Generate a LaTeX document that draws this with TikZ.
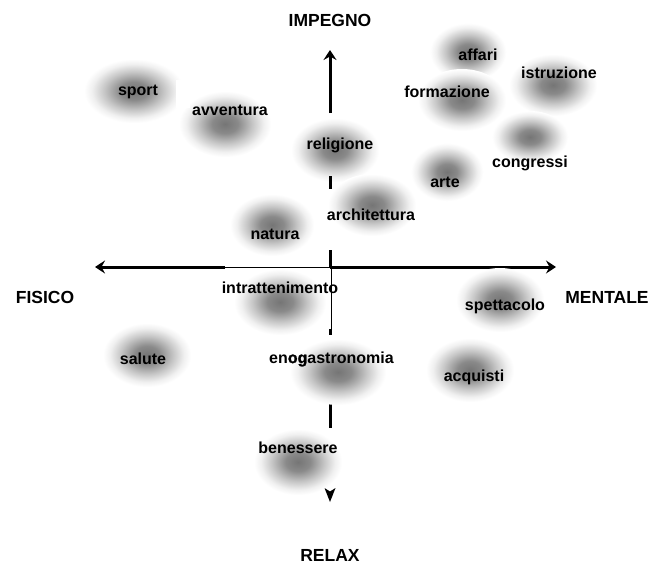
\documentclass[tikz,border=0pt]{standalone}
\usepackage{fontspec}
\setmainfont{Liberation Sans}
\newfontfamily\heavyfont[FakeBold=1.5]{Liberation Sans Bold}
\usetikzlibrary{arrows.meta}
\pgfdeclareradialshading{blobshade}{\pgfpoint{0bp}{0bp}}{color(0bp)=(black!54); color(7bp)=(black!46); color(15bp)=(black!22); color(21bp)=(black!6); color(25bp)=(white); color(50bp)=(white)}
\begin{document}
\begin{tikzpicture}[x=1pt,y=-1pt,
  lbl/.style={font=\bfseries\fontsize{16}{18}\selectfont, inner sep=0pt, text=black},
  axl/.style={font=\bfseries\fontsize{17.5}{20}\selectfont, inner sep=0pt, text=black},
  axisline/.style={line width=3pt, black},
  thinline/.style={line width=0.9pt, black},
  blob/.style={shading=blobshade},
  tipa/.style={-{Stealth[length=10pt,width=13pt,inset=3.5pt]}}
]
\useasboundingbox (0,0) rectangle (650,565);
\fill[white] (0,0) rectangle (650,565);

% blobs
\shade[blob] (468,52) ellipse (38 and 29);
\shade[blob] (553,85) ellipse (44 and 31);
\shade[blob] (462,100) ellipse (44 and 31);
\shade[blob] (134,91) ellipse (50 and 32);
\shade[blob] (225,124) ellipse (46 and 33);
\shade[blob] (335,150) ellipse (44 and 32);
\shade[blob] (530,137) ellipse (38 and 26);
\shade[blob] (447,172) ellipse (36 and 29);
\shade[blob] (372,205) ellipse (44 and 31);
\shade[blob] (272,225) ellipse (42 and 31);
\fill[white] (176,80) rectangle (190,108);

% white picture box over the axes
\coordinate (boxtl) at (225,267.5);
\coordinate (boxtr) at (331,267.5);
\coordinate (boxbr) at (331,330);

% axes
\coordinate (vtop) at (330,50);
\coordinate (vs1) at (330,113);
\coordinate (hl) at (95,267);
\coordinate (hr) at (556,267);
\draw[axisline,tipa] (vs1) -- (vtop);
\draw[axisline] (330,176) -- (330,189);
\draw[axisline] (330,250) -- (330,267);
\draw[axisline,tipa] (225,267) -- (hl);
\draw[axisline,tipa] (330,267) -- (hr);
\fill[white] (225,268.9) rectangle (330.5,330);
\draw[thinline] (boxtl) -- (boxtr) -- (boxbr);
\draw[axisline] (330,329) -- (330,335);
\draw[line width=2.5pt] (303.5,393.5) -- (307.5,393.5);
\draw[axisline] (330,398) -- (330,428);
\coordinate (vbot) at (330,502);
\fill (324.5,488) -- (330,491.5) -- (335.5,488) -- (vbot) -- cycle;

% lower blobs
\shade[blob] (280,302) ellipse (46 and 33);
\shade[blob] (500,300) ellipse (44 and 32);
\shade[blob] (147,355) ellipse (44 and 32);
\shade[blob] (338,372) ellipse (48 and 33);
\shade[blob] (470,370) ellipse (44 and 32);
\shade[blob] (298,462) ellipse (44 and 33);

% axis labels
\node[axl] (impegno) at (330,20) {IMPEGNO};
\node[axl] (relax) at (330,555) {RELAX};
\node[axl] (fisico) at (45,297) {FISICO};
\node[axl] (mentale) at (607,297) {MENTALE};

% labels
\node[lbl] (affari) at (478,55) {affari};
\node[lbl] (istruzione) at (559,73) {istruzione};
\node[lbl] (formazione) at (447,92) {formazione};
\node[lbl] (sport) at (138,92) {sport};
\node[lbl] (avventura) at (230,110) {avventura};
\node[lbl] (religione) at (340,145) {religione};
\node[lbl] (congressi) at (530,163) {congressi};
\node[lbl] (arte) at (445,182) {arte};
\node[lbl] (architettura) at (371,215) {architettura};
\node[lbl] (natura) at (275,234) {natura};
\node[lbl] (intrattenimento) at (280,288) {intrattenimento};
\node[lbl] (spettacolo) at (505,306) {spettacolo};
\node[lbl] (salute) at (143,359) {salute};
\node[lbl,anchor=west] (enogastronomia) at (269,359) {en{\heavyfont\fontsize{16}{18}\selectfont og}astronomia};
\node[lbl] (acquisti) at (474,377) {acquisti};
\node[lbl] (benessere) at (298,448) {benessere};
\end{tikzpicture}
\end{document}
